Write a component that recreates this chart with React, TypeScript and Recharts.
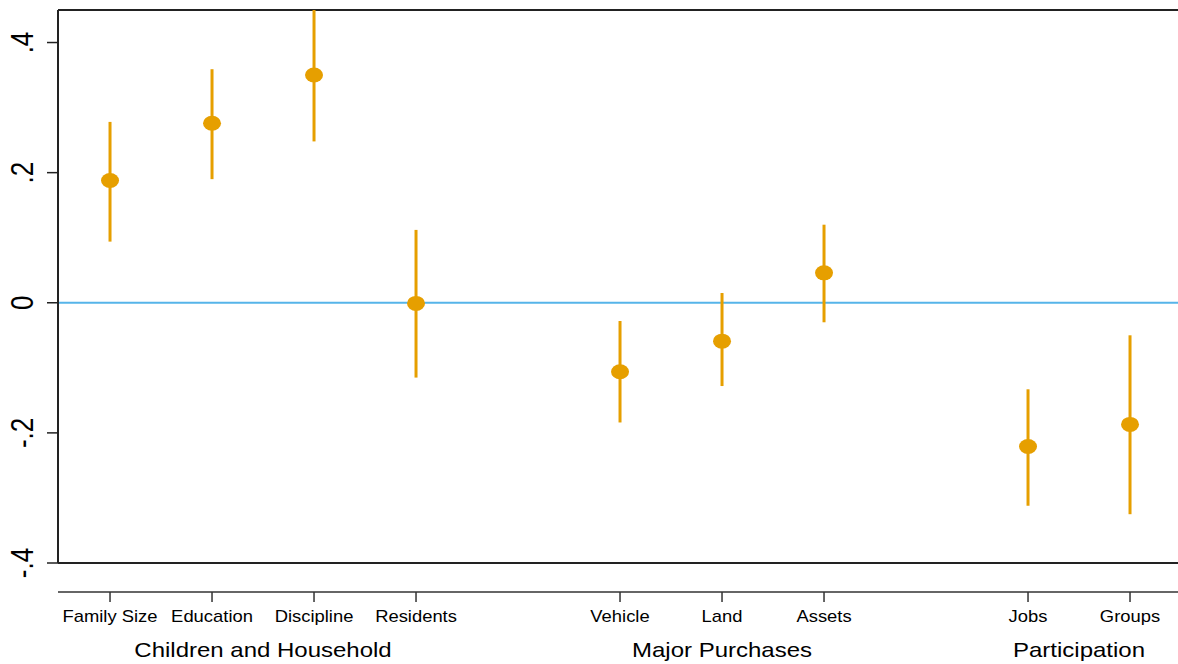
import React from "react";
import {
  ComposedChart,
  Scatter,
  XAxis,
  YAxis,
  ErrorBar,
  ReferenceLine,
} from "recharts";

const categories = ["Family Size", "Education", "Discipline", "Residents", "Vehicle", "Land", "Assets", "Jobs", "Groups"];
const positions = [1, 2, 3, 4, 6, 7, 8, 10, 11];
const estimates = [0.188, 0.276, 0.35, -0.001, -0.106, -0.059, 0.046, -0.221, -0.187];
const ciLow = [0.094, 0.19, 0.248, -0.115, -0.184, -0.128, -0.03, -0.312, -0.325];
const ciHigh = [0.278, 0.359, 0.45, 0.112, -0.028, 0.015, 0.12, -0.133, -0.05];
const groupNames = ["Children and Household", "Major Purchases", "Participation"];
const groupCenters = [2.5, 7, 10.5];
const yTicks = [-0.4, -0.2, 0, 0.2, 0.4];
const yTop = 0.45;
const yBottom = -0.4;

const data = positions.map((p, i) => ({
  pos: p,
  name: categories[i],
  est: estimates[i],
  err: [estimates[i] - ciLow[i], ciHigh[i] - estimates[i]],
}));

const ORANGE = "#E69F00";
const FONT = "'Liberation Sans', Arial, Helvetica, sans-serif";

const fmtY = (v: number) => {
  if (v === 0) return "0";
  const s = Math.abs(v).toFixed(1).replace(/^0/, "");
  return (v < 0 ? "-" : "") + s;
};

const YTick = (props: any) => {
  const { x, y, payload } = props;
  return (
    <text
      transform={`translate(${x - 12}, ${y}) scale(1.2, 1) rotate(-90)`}
      textAnchor="middle"
      fontSize={26}
      fontFamily={FONT}
      fill="#000"
    >
      {fmtY(payload.value)}
    </text>
  );
};

const CatTick = (props: any) => {
  const { x, y, payload } = props;
  const idx = positions.indexOf(payload.value);
  return (
    <text
      transform={`translate(${x}, ${y + 18}) scale(1.15, 1)`}
      textAnchor="middle"
      fontSize={16}
      fontFamily={FONT}
      fill="#000"
    >
      {idx >= 0 ? categories[idx] : ""}
    </text>
  );
};

const GroupTick = (props: any) => {
  const { x, y, payload } = props;
  const idx = groupCenters.indexOf(payload.value);
  return (
    <text
      transform={`translate(${x}, ${y + 25}) scale(1.2, 1)`}
      textAnchor="middle"
      fontSize={20}
      fontFamily={FONT}
      fill="#000"
    >
      {idx >= 0 ? groupNames[idx] : ""}
    </text>
  );
};

const Dot = (props: any) => {
  const { cx, cy } = props;
  if (cx == null || cy == null) return null;
  return <ellipse cx={cx} cy={cy} rx={9} ry={7.5} fill={ORANGE} />;
};

export default function App() {
  const domainX: [number, number] = [0.49, 11.49];
  return (
    <div style={{ position: "absolute", left: 0, top: 0, width: 1178, height: 664, overflow: "hidden", background: "#fff" }}>
      <ComposedChart
        width={1180}
        height={664}
        data={data}
        margin={{ top: 10, right: 0, bottom: 0, left: 0 }}
      >
        <XAxis
          xAxisId="a_frame"
          orientation="bottom"
          type="number"
          dataKey="pos"
          domain={domainX}
          height={29}
          tick={false}
          tickLine={false}
          axisLine={{ stroke: "#222", strokeWidth: 2 }}
        />
        <XAxis
          xAxisId="b_labels"
          orientation="bottom"
          type="number"
          dataKey="pos"
          domain={domainX}
          ticks={positions}
          interval={0}
          height={40}
          tickSize={10}
          tickMargin={2}
          tick={<CatTick />}
          tickLine={{ stroke: "#333", strokeWidth: 1.5 }}
          axisLine={{ stroke: "#333", strokeWidth: 1.5 }}
        />
        <XAxis
          xAxisId="c_groups"
          orientation="bottom"
          type="number"
          dataKey="pos"
          domain={domainX}
          ticks={groupCenters}
          interval={0}
          height={32}
          tickSize={0}
          tickMargin={0}
          tick={<GroupTick />}
          tickLine={false}
          axisLine={false}
        />
        <YAxis
          type="number"
          domain={[yBottom, yTop]}
          allowDataOverflow
          ticks={yTicks}
          interval={0}
          width={58}
          tickSize={11}
          tickMargin={2}
          tick={<YTick />}
          tickLine={{ stroke: "#222", strokeWidth: 1.5 }}
          axisLine={{ stroke: "#222", strokeWidth: 2 }}
        />
        <ReferenceLine xAxisId="b_labels" y={0} stroke="#56B4E9" strokeWidth={2} />
        <ReferenceLine xAxisId="b_labels" y={yTop} stroke="#222" strokeWidth={2} />
        <Scatter
          xAxisId="b_labels"
          dataKey="est"
          fill={ORANGE}
          shape={<Dot />}
          isAnimationActive={false}
        >
          <ErrorBar
            dataKey="err"
            direction="y"
            width={0}
            stroke={ORANGE}
            strokeWidth={3}
            isAnimationActive={false}
          />
        </Scatter>
      </ComposedChart>
    </div>
  );
}
